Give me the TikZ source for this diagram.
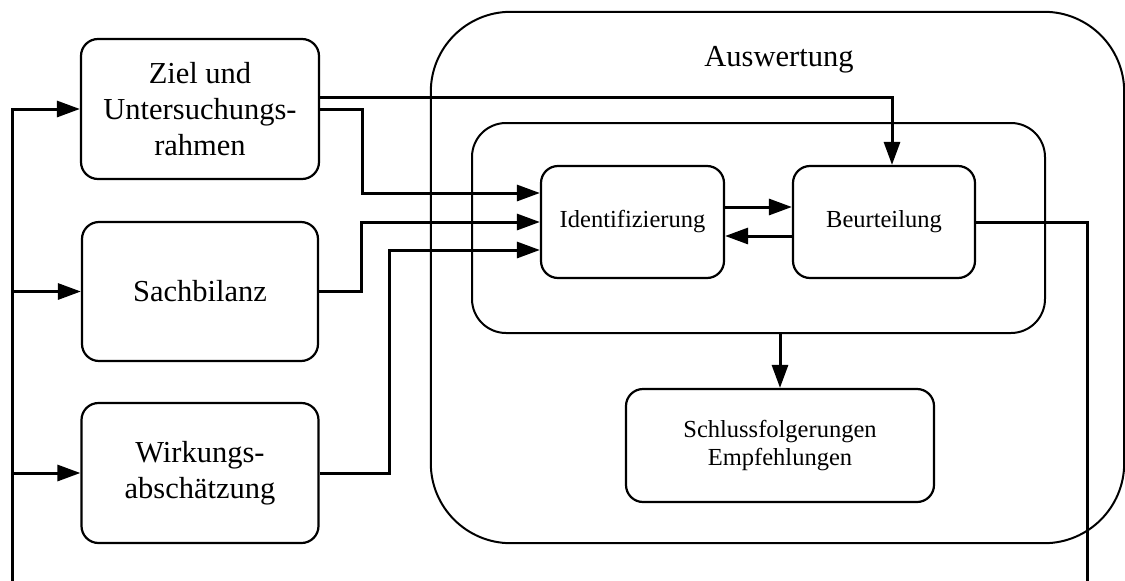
\documentclass[tikz,border=0pt]{standalone}
\usepackage{fontspec}
\setmainfont{Liberation Serif}
\usetikzlibrary{arrows.meta,calc}
\begin{document}
\begin{tikzpicture}[x=1pt,y=-1pt,
  box/.style={draw,line width=2.2pt,rounded corners=17pt,align=center,inner sep=0pt},
  frame/.style={draw,line width=2pt,inner sep=0pt},
  bigtext/.style={font=\fontsize{30.5}{36}\selectfont},
  smalltext/.style={font=\fontsize{24.5}{28}\selectfont},
  link/.style={line width=3pt,line join=miter,-{Triangle[length=23pt,width=16pt]}},
  plain/.style={line width=3pt,line join=miter}]
\useasboundingbox (0,0) rectangle (1125,581);

% evaluation frame: large quarter-circle corners drawn explicitly
\node[inner sep=0pt,minimum width=693pt,minimum height=531pt] (outer) at (777.5,277.5) {};
\draw[line width=2pt]
  ($(outer.north west)+(80,0)$) -- ($(outer.north east)+(-80,0)$)
  arc[start angle=90,end angle=0,radius=80pt]
  -- ($(outer.south east)+(0,-80)$)
  arc[start angle=0,end angle=-90,radius=80pt]
  -- ($(outer.south west)+(80,0)$)
  arc[start angle=-90,end angle=-180,radius=80pt]
  -- ($(outer.north west)+(0,80)$)
  arc[start angle=180,end angle=90,radius=80pt] -- cycle;
\node[bigtext] (auswertung) at (779,60) {Auswertung};
\node[frame,rounded corners=34pt,minimum width=573pt,minimum height=210pt] (inner) at (758.5,228) {};

% input phases
\node[box,bigtext,minimum width=238pt,minimum height=140pt] (ziel) at (200,109) {Ziel und\\Untersuchungs-\\rahmen};
\node[box,bigtext,minimum width=236pt,minimum height=139pt] (sach) at (200,291.5) {Sachbilanz};
\node[box,bigtext,minimum width=237pt,minimum height=140pt] (wirk) at (200,473) {Wirkungs-\\abschätzung};

% evaluation steps
\node[box,smalltext,minimum width=183pt,minimum height=112pt] (ident) at (632.5,222) {Identifizierung};
\node[box,smalltext,minimum width=182pt,minimum height=112pt] (beurt) at (884,222) {Beurteilung};
\node[box,smalltext,minimum width=308pt,minimum height=113pt] (schluss) at (780,445.5) {Schlussfolgerungen\\Empfehlungen};

% feedback line ends at the lower edge
\coordinate (fbR) at (1087,581);
\coordinate (fbL) at (12,581);

% connectors
\draw[link] ($(ziel.east)+(0,-12)$) -| ($(beurt.north)+(8,0)$);
\draw[link] (ziel.east) -- ($(ziel.east)+(42,0)$) |- ($(ident.west)+(0,-29)$);
\draw[link] (sach.east) -- ($(sach.east)+(42,0)$) |- (ident.west);
\draw[link] (wirk.east) -- ($(wirk.east)+(70,0)$) |- ($(ident.west)+(0,28)$);
\draw[link] ($(ident.east)+(0,-15)$) -- ($(beurt.west)+(0,-15)$);
\draw[link] ($(beurt.west)+(0,14)$) -- ($(ident.east)+(0,14)$);
\draw[link] (inner.south -| schluss.north) -- (schluss.north);
\draw[plain] (beurt.east) -| (fbR);
\draw[link] (fbL) |- (ziel.west);
\draw[link] (sach.west -| fbL) -- (sach.west);
\draw[link] (wirk.west -| fbL) -- (wirk.west);
\end{tikzpicture}
\end{document}
